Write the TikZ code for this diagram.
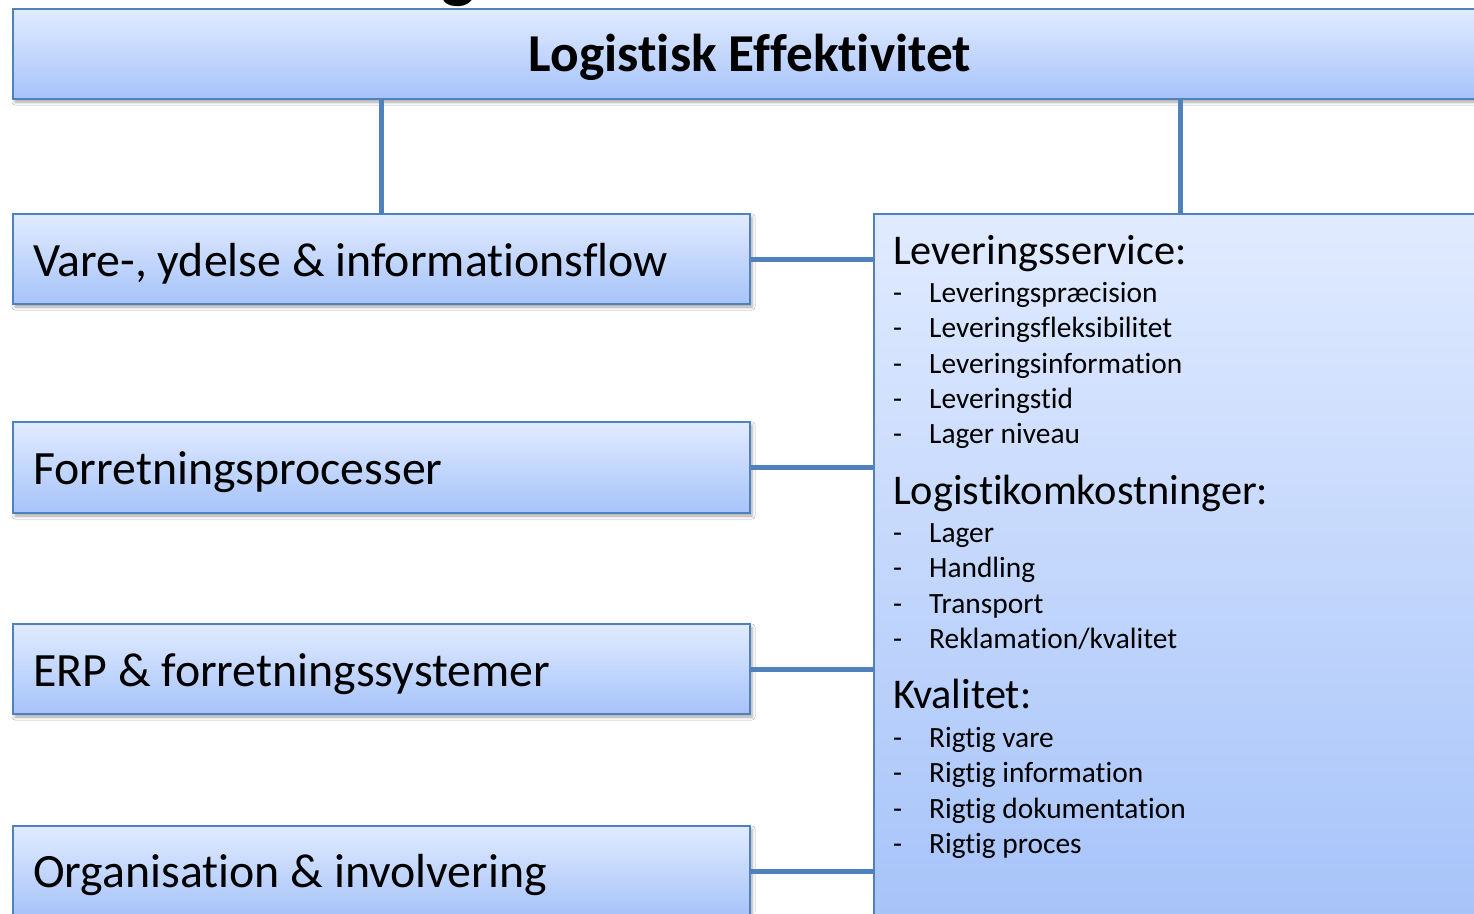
\documentclass[tikz,border=0pt]{standalone}
\usepackage{fontspec}
\setmainfont{Carlito}[Ligatures={NoCommon,NoRequired,NoContextual}]
\usetikzlibrary{shadows.blur}
\definecolor{bordc}{HTML}{4F81BD}
\definecolor{topc}{HTML}{E1EBFF}
\definecolor{botc}{HTML}{A6C3F9}
\tikzset{
  boxs/.style={draw=bordc, line width=2bp, top color=topc, bottom color=botc,
    inner sep=0pt, anchor=north west,
    blur shadow={shadow xshift=2bp, shadow yshift=-3bp, shadow blur radius=3bp, shadow opacity=35}},
  conn/.style={draw=bordc, line width=5bp},
  lefttxt/.style={anchor=base west, inner sep=0pt, font=\fontsize{48}{50}\selectfont},
  titletxt/.style={anchor=base, inner sep=0pt, font=\bfseries\fontsize{53.5}{55}\selectfont},
  headtxt/.style={anchor=base west, inner sep=0pt, font=\fontsize{42.5}{44}\selectfont},
  itemtxt/.style={anchor=base west, inner sep=0pt, font=\fontsize{29.5}{31}\selectfont},
  dashtxt/.style={anchor=base west, inner sep=0pt, font=\fontsize{29.5}{31}\selectfont},
}
\begin{document}
\begin{tikzpicture}[x=1bp,y=-1bp]
\useasboundingbox (0,0) rectangle (1474,913);
\begin{scope}
\clip (0,0) rectangle (1474,913);
\fill[white] (0,0) rectangle (1474,913);
% cut-off glyph of a title above
\node[anchor=base, inner sep=0pt, font=\bfseries\fontsize{72}{72}\selectfont] (gtop) at (458,-6) {g};
% coordinates for vertical connectors
\coordinate (cl) at (381,150);
\coordinate (cr) at (1180,150);
% boxes
\node[boxs, minimum width=1500bp, minimum height=90bp] (top) at (12,8) {};
\node[boxs, minimum width=737bp, minimum height=90bp] (b1) at (12,213) {};
\node[boxs, minimum width=737bp, minimum height=91bp] (b2) at (12,421) {};
\node[boxs, minimum width=737bp, minimum height=90bp] (b3) at (12,623) {};
\node[boxs, minimum width=737bp, minimum height=90bp] (b4) at (12,825) {};
\node[boxs, minimum width=700bp, minimum height=710bp] (rb) at (873,213) {};
% connectors
\draw[conn] (top.south -| cl) -- (b1.north -| cl);
\draw[conn] (top.south -| cr) -- (rb.north -| cr);
\draw[conn] (b1.east) -- (b1.east -| rb.west);
\draw[conn] (b2.east) -- (b2.east -| rb.west);
\draw[conn] (b3.east) -- (b3.east -| rb.west);
\draw[conn] (b4.east) -- (b4.east -| rb.west);
% texts
\node[titletxt] (ttl) at (750,71) {Logistisk Effektivitet};
\node[lefttxt] (t1) at (33,276) {Vare-, ydelse \& informationsflow};
\node[lefttxt] (t2) at (33,484) {Forretningsprocesser};
\node[lefttxt] (t3) at (33,686) {ERP \& forretningssystemer};
\node[lefttxt] (t4) at (33,887) {Organisation \& involvering};
% right column
\node[headtxt] (h1) at (893,264) {Leveringsservice:};
\node[headtxt] (h2) at (893,504) {Logistikomkostninger:};
\node[headtxt] (h3) at (893,708) {Kvalitet:};
\foreach \yy/\txt/\nm in {302.5/Leveringspræcision/i1, 337.5/Leveringsfleksibilitet/i2, 373.5/Leveringsinformation/i3, 408.5/Leveringstid/i4, 443.5/Lager niveau/i5,
  542.5/Lager/i6, 577.5/Handling/i7, 613.5/Transport/i8, 648.5/Reklamation\slash kvalitet/i9,
  747.5/Rigtig vare/i10, 782.5/Rigtig information/i11, 818.5/Rigtig dokumentation/i12, 853.5/Rigtig proces/i13}{
  \node[dashtxt] (d\nm) at (893,\yy) {-};
  \node[itemtxt] (\nm) at (929,\yy) {\txt};
}
\end{scope}
\end{tikzpicture}
\end{document}
